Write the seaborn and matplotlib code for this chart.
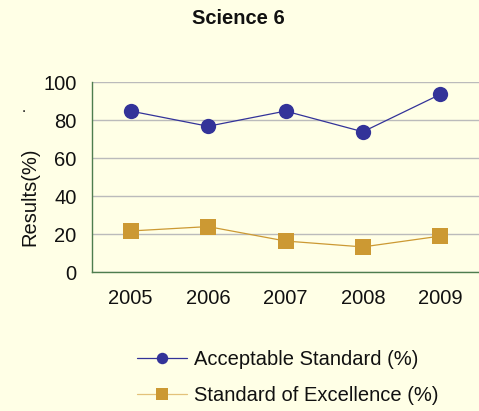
import matplotlib
matplotlib.use("Agg")
import matplotlib.pyplot as plt
import seaborn as sns
import pandas as pd

years = ["2005", "2006", "2007", "2008", "2009"]
acceptable = [84.7, 76.7, 84.7, 73.8, 93.5]
excellence = [21.6, 23.9, 16.3, 13.2, 18.9]
series_names = ["Acceptable Standard (%)", "Standard of Excellence (%)"]
yticks = [0, 20, 40, 60, 80, 100]

sns.set_theme(style="white")
plt.rcParams['font.family'] = ['Liberation Sans', 'DejaVu Sans']

bg = "#FFFFE6"
green = "#4E7D4E"
blue = "#333399"
gold = "#CC9933"
fs = 14.5

fig = plt.figure(figsize=(4.79, 4.11), dpi=100, facecolor=bg)
ax = fig.add_axes([92/479, 1-272/411, (479-92)/479, (272-82)/411], facecolor=bg)

pos = list(range(len(years)))
df = pd.DataFrame({"pos": pos + pos,
                   "value": acceptable + excellence,
                   "series": [series_names[0]]*5 + [series_names[1]]*5})

sns.lineplot(data=df[df.series == series_names[0]], x="pos", y="value", ax=ax,
             color=blue, lw=0.9, marker="o", markersize=11, markeredgewidth=0,
             label=series_names[0])
sns.lineplot(data=df[df.series == series_names[1]], x="pos", y="value", ax=ax,
             color=gold, lw=0.9, marker="s", markersize=11, markeredgewidth=0,
             label=series_names[1])

ax.set_xlim(-0.5, 4.5)
ax.set_ylim(0, 100)
ax.set_yticks(yticks)
ax.set_yticklabels([str(t) for t in yticks], fontsize=fs)
ax.set_xticks(pos)
ax.set_xticklabels(years, fontsize=fs)
ax.set_xticks([p - 0.5 for p in pos] + [4.5], minor=True)
ax.tick_params(axis="x", which="major", length=0, pad=12, colors="#111111")
ax.tick_params(axis="x", which="minor", length=5, width=1, color=green, direction="out")
ax.tick_params(axis="y", which="major", length=5, width=1, color=green, direction="out",
               labelcolor="#111111", pad=6)
ax.set_xlabel("")
ax.set_ylabel("")
ax.yaxis.grid(True, color="#BBBBBB", lw=1)
ax.set_axisbelow(True)
for s in ["top", "right"]:
    ax.spines[s].set_visible(False)
ax.spines["left"].set_color(green)
ax.spines["bottom"].set_color(green)
ax.spines["left"].set_linewidth(1)
ax.spines["bottom"].set_linewidth(1)

fig.text(30/479, 1-197/411, "Results(%)", ha="center", va="center", rotation=90,
         fontsize=fs, color="#111111")
fig.text(238/479, 1-18/411, "Science 6", ha="center", va="center",
         fontsize=fs, fontweight="bold", color="#111111")
fig.text(24/479, 1-108/411, ".", ha="center", va="center", fontsize=11, color="#111111")

leg = ax.legend(loc="upper left", bbox_to_anchor=(137/479, 1-350/411),
                bbox_transform=fig.transFigure, frameon=False, fontsize=fs,
                handlelength=2.5, labelspacing=0.85, markerscale=0.75,
                handletextpad=0.35, borderpad=0, borderaxespad=0)
for t in leg.get_texts():
    t.set_color("#111111")
hl = leg.legend_handles if hasattr(leg, "legend_handles") else leg.legendHandles
hl[1].set_color("#E3C27A")
hl[1].set_markerfacecolor(gold)

fig.savefig("out.png", dpi=100, facecolor=bg)
